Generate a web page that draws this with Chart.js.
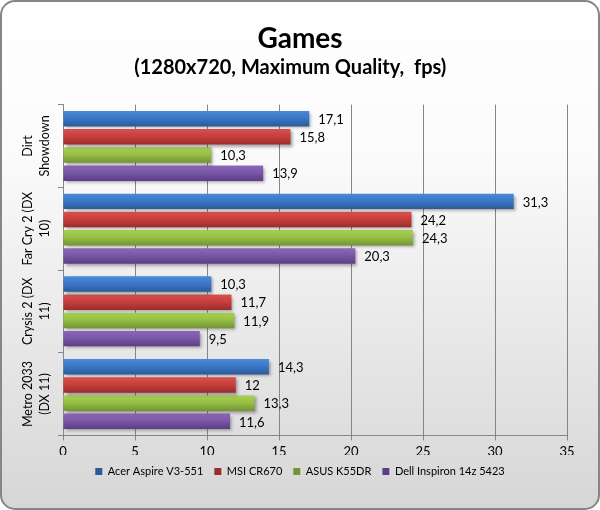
<!DOCTYPE html>
<html>
<head>
<meta charset="utf-8">
<script src="https://cdn.jsdelivr.net/npm/chart.js@4"></script>
<style>
  html, body { margin: 0; padding: 0; background: #fff; }
  #wrap { width: 600px; height: 510px; }
</style>
</head>
<body>
<div id="wrap"><canvas id="gamesChart" width="600" height="510"></canvas></div>
<script>
const categories = [
    ['Dirt', 'Showdown'],
    ['Far Cry 2 (DX', '10)'],
    ['Crysis 2 (DX', '11)'],
    ['Metro 2033', '(DX 11)']
];
const seriesNames = ['Acer Aspire V3-551', 'MSI CR670', 'ASUS K55DR', 'Dell Inspiron 14z 5423'];
const acerValues = [17.1, 31.3, 10.3, 14.3];
const msiValues = [15.8, 24.2, 11.7, 12];
const asusValues = [10.3, 24.3, 11.9, 13.3];
const dellValues = [13.9, 20.3, 9.5, 11.6];
const xTicks = [0, 5, 10, 15, 20, 25, 30, 35];

const FONT = 'Lato, "Open Sans", sans-serif';

// light top / mid / dark bottom for each series
const palette = [
    { base: '#3a74c2', top: '#4a8ad8', mid: '#3b78c8', bottom: '#2b5a98' },
    { base: '#c23c3a', top: '#d65250', mid: '#c8403e', bottom: '#9c2c2a' },
    { base: '#8fba44', top: '#a8d050', mid: '#98c046', bottom: '#739434' },
    { base: '#7052a0', top: '#8e66b8', mid: '#7a58a8', bottom: '#5a3e84' }
];

const barFill = (idx) => (ctx) => {
    const colors = palette[idx];
    if (ctx.type !== 'data') return colors.base;
    const meta = ctx.chart.getDatasetMeta(ctx.datasetIndex);
    const el = meta.data[ctx.dataIndex];
    if (!el || !Number.isFinite(el.y) || !Number.isFinite(el.height)) return colors.base;
    const half = el.height / 2;
    const g = ctx.chart.ctx.createLinearGradient(0, el.y - half, 0, el.y + half);
    g.addColorStop(0, colors.top);
    g.addColorStop(0.45, colors.mid);
    g.addColorStop(1, colors.bottom);
    return g;
};

const frame = {
    id: 'frame',
    beforeDraw: (chart) => {
        const c = chart.ctx;
        c.save();
        const g = c.createLinearGradient(0, 0, 0, chart.height);
        g.addColorStop(0, '#ffffff');
        g.addColorStop(0.3, '#fbfbfb');
        g.addColorStop(1, '#d6d6d6');
        c.beginPath();
        c.roundRect(1, 1, chart.width - 2, chart.height - 2, 14);
        c.fillStyle = g;
        c.fill();
        c.lineWidth = 2;
        c.strokeStyle = '#868686';
        c.stroke();
        c.restore();
    }
};

const barShadow = {
    id: 'barShadow',
    beforeDatasetsDraw: (chart) => {
        const c = chart.ctx;
        c.save();
        c.shadowColor = 'rgba(0,0,0,0.35)';
        c.shadowOffsetX = 2;
        c.shadowOffsetY = 2;
        c.shadowBlur = 3;
    },
    afterDatasetsDraw: (chart) => {
        chart.ctx.restore();
    }
};

const valueLabels = {
    id: 'valueLabels',
    afterDatasetsDraw: (chart) => {
        const c = chart.ctx;
        c.save();
        c.font = `13px ${FONT}`;
        c.fillStyle = '#000';
        c.textAlign = 'left';
        c.textBaseline = 'middle';
        chart.data.datasets.forEach((ds, di) => {
            chart.getDatasetMeta(di).data.forEach((el, i) => {
                const txt = String(ds.data[i]).replace('.', ',');
                c.fillText(txt, el.x + 9, el.y + 1);
            });
        });
        c.restore();
    }
};

const categoryLabels = {
    id: 'categoryLabels',
    afterDraw: (chart) => {
        const c = chart.ctx;
        const y = chart.scales.y;
        c.save();
        c.font = `12.5px ${FONT}`;
        c.fillStyle = '#000';
        c.textAlign = 'center';
        c.textBaseline = 'middle';
        categories.forEach((lines, i) => {
            const cy = y.getPixelForValue(i);
            lines.forEach((line, li) => {
                c.save();
                c.translate(28 + li * 17, cy);
                c.rotate(-Math.PI / 2);
                c.fillText(line, 0, 0);
                c.restore();
            });
        });
        c.restore();
    }
};

const valueSets = [acerValues, msiValues, asusValues, dellValues];

const chart = new Chart(document.getElementById('gamesChart'), {
    type: 'bar',
    data: {
        labels: categories.map((l) => l.join(' ')),
        datasets: seriesNames.map((name, i) => ({
            label: name,
            data: valueSets[i],
            backgroundColor: barFill(i),
            borderWidth: 0,
            categoryPercentage: 0.88,
            barPercentage: 0.85
        }))
    },
    options: {
        indexAxis: 'y',
        responsive: false,
        animation: false,
        layout: { padding: { top: 22, right: 33, bottom: 23, left: 33 } },
        scales: {
            x: {
                min: 0,
                max: 35,
                afterBuildTicks: (scale) => { scale.ticks = xTicks.map((v) => ({ value: v })); },
                afterFit: (scale) => { scale.height -= 9; },
                ticks: { color: '#000', font: { family: FONT, size: 13 }, padding: 4 },
                grid: { color: '#868686', tickLength: 5, lineWidth: 1 },
                border: { color: '#868686', width: 1 }
            },
            y: {
                afterFit: (scale) => { scale.width = 30; },
                ticks: { display: false },
                grid: { drawOnChartArea: false, color: '#868686', tickLength: 5, offset: true },
                border: { color: '#868686', width: 1 }
            }
        },
        plugins: {
            title: {
                display: true,
                text: 'Games',
                color: '#000',
                font: { family: FONT, size: 28, weight: 'bold' },
                padding: { top: 0, bottom: 0 }
            },
            subtitle: {
                display: true,
                // trailing spaces nudge the centred line left like the original
                text: '(1280x720, Maximum Quality,  fps)    ',
                color: '#000',
                font: { family: FONT, size: 20, weight: 'bold' },
                padding: { top: 0, bottom: 25 }
            },
            legend: {
                position: 'bottom',
                labels: {
                    color: '#000',
                    font: { family: FONT, size: 11 },
                    boxWidth: 7,
                    boxHeight: 7,
                    padding: 11
                }
            },
            tooltip: { enabled: false }
        }
    },
    plugins: [frame, barShadow, valueLabels, categoryLabels]
});

// second pass so the bar gradients can follow each bar's position
chart.update('none');
</script>
</body>
</html>
